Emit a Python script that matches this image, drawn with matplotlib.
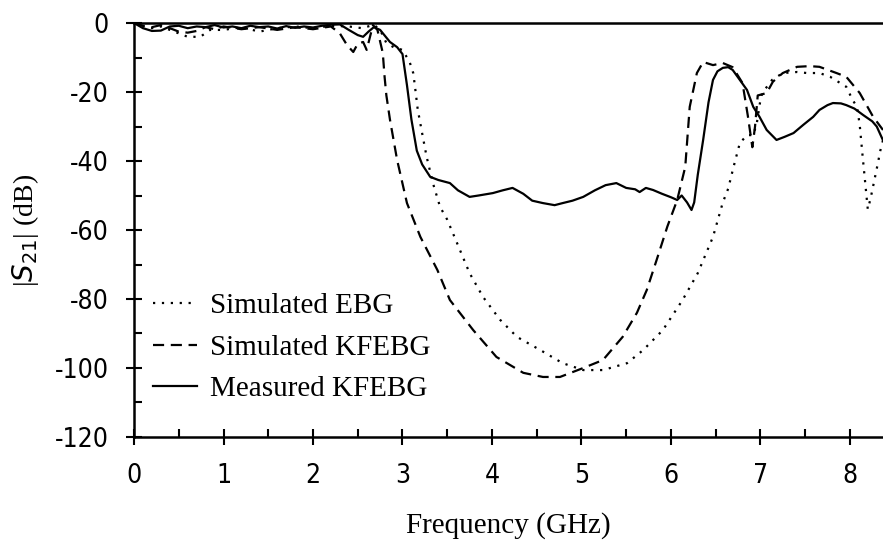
import matplotlib
matplotlib.use("Agg")
import matplotlib.pyplot as plt
from matplotlib.ticker import MultipleLocator

plt.rcParams["axes.unicode_minus"] = False

# Measured KFEBG (solid)
meas_f = [0, 0.1, 0.2, 0.3, 0.4, 0.5, 0.6, 0.7, 0.8, 0.9, 1.0, 1.1, 1.2, 1.3, 1.4,
          1.5, 1.6, 1.7, 1.8, 1.9, 2.0, 2.1, 2.2, 2.3, 2.4, 2.5, 2.56, 2.62, 2.68,
          2.75, 2.86, 2.94, 3.0, 3.05, 3.1, 3.16, 3.22, 3.31, 3.4, 3.53, 3.62, 3.75,
          3.85, 4.01, 4.12, 4.23, 4.35, 4.45, 4.57, 4.7, 4.79, 4.9, 5.02, 5.15, 5.27,
          5.39, 5.5, 5.6, 5.65, 5.72, 5.8, 5.9, 6.0, 6.07, 6.12, 6.18, 6.23, 6.26,
          6.3, 6.36, 6.42, 6.47, 6.52, 6.58, 6.64, 6.69, 6.77, 6.85, 6.92, 6.99,
          7.07, 7.18, 7.27, 7.37, 7.48, 7.59, 7.66, 7.75, 7.81, 7.9, 7.96, 8.05,
          8.15, 8.25, 8.3, 8.37]
meas_db = [0, -1.5, -2.3, -2.2, -1.0, -0.8, -1.5, -1.0, -1.2, -0.6, -1.3, -1.0, -1.5,
           -0.8, -1.2, -1.0, -1.6, -0.9, -1.4, -1.0, -1.3, -0.8, -0.5, -0.4, -2.0,
           -3.5, -4.0, -2.5, -1.2, -2.0, -5.5, -7.0, -9.0, -18, -28, -37, -41, -44.6,
           -45.5, -46.4, -48.5, -50.4, -50.0, -49.3, -48.5, -47.8, -49.5, -51.5,
           -52.2, -52.8, -52.2, -51.5, -50.4, -48.5, -47.0, -46.4, -47.8, -48.2,
           -49, -47.8, -48.4, -49.5, -50.5, -51.3, -50.0, -52.0, -54.2, -52, -44,
           -33.9, -23, -16.5, -14, -13, -12.8, -13.6, -16.5, -19.4, -24.3, -27.2,
           -31, -33.9, -33, -31.9, -29.5, -27.2, -25.2, -23.8, -23.2, -23.3, -23.8,
           -24.8, -26.7, -28.5, -30, -34]

# Simulated KFEBG (dashed)
kf_f = [0, 0.1, 0.2, 0.3, 0.4, 0.5, 0.6, 0.7, 0.8, 0.9, 1.0, 1.2, 1.4, 1.6, 1.8, 2.0,
        2.2, 2.3, 2.38, 2.45, 2.5, 2.56, 2.6, 2.67, 2.72, 2.78, 2.8, 2.82, 2.86,
        2.94, 3.05, 3.2, 3.39, 3.53, 3.79, 4.05, 4.35, 4.57, 4.76, 5.02, 5.24, 5.46,
        5.62, 5.73, 5.84, 5.96, 6.07, 6.16, 6.21, 6.29, 6.36, 6.47, 6.58, 6.69, 6.8,
        6.86, 6.91, 6.94, 6.97, 7.07, 7.14, 7.25, 7.41, 7.55, 7.66, 7.85, 7.96, 8.11,
        8.26, 8.37]
kf_db = [0, -0.8, -1.2, -0.6, -1.5, -2.5, -2.8, -2.3, -1.2, -1.8, -1.0, -1.8, -1.2,
         -2.0, -1.2, -1.8, -1.0, -3.0, -6.4, -8.4, -6, -5.5, -7.8, -0.6, -2.0, -8.7,
         -15.6, -21, -28, -39.7, -52.2, -62, -71.6, -80.3, -89, -96.8, -101.4,
         -102.6, -102.6, -100, -97.7, -91, -84, -77.4, -68.7, -59, -51.3, -41.7,
         -24.3, -14.5, -11.3, -12.2, -11.6, -12.8, -17.4, -27, -36, -30, -21, -20.3,
         -17, -14.5, -12.7, -12.5, -12.7, -14.5, -15.6, -20.3, -27.2, -31]

# Simulated EBG (dotted)
ebg_f = [0, 0.1, 0.2, 0.3, 0.4, 0.5, 0.6, 0.74, 0.85, 1.0, 1.2, 1.4, 1.6, 1.8, 2.0,
         2.2, 2.4, 2.55, 2.68, 2.75, 2.82, 2.9, 3.0, 3.08, 3.12, 3.14, 3.17, 3.22,
         3.27, 3.34, 3.42, 3.5, 3.61, 3.75, 3.9, 4.09, 4.28, 4.54, 4.79, 5.02, 5.24,
         5.51, 5.69, 5.91, 6.13, 6.3, 6.47, 6.58, 6.64, 6.7, 6.77, 6.85, 6.92, 6.96,
         7.0, 7.02, 7.13, 7.25, 7.41, 7.52, 7.66, 7.78, 7.96, 8.03, 8.08, 8.11, 8.14,
         8.17, 8.2, 8.23, 8.27, 8.31, 8.34, 8.37]
ebg_db = [0, -1.0, -1.5, -1.0, -2.0, -3.0, -4.0, -4.0, -2.0, -2.0, -1.2, -2.5, -1.5,
          -1.0, -1.5, -0.8, -1.0, -1.5, -0.5, -2, -5.8, -7.0, -7.8, -11.3, -14.5,
          -18.5, -25, -32, -38.8, -46.4, -53.3, -57, -63.8, -72.5, -79.4, -86, -91,
          -94.8, -98.6, -100.6, -100.6, -98.6, -94.8, -89, -80.3, -72.5, -62, -52,
          -48, -41.7, -34.8, -32.5, -32.5, -29, -22.3, -20.3, -16.5, -14.5, -14.2,
          -14.5, -14.5, -15.6, -18.5, -22.3, -24.3, -29.6, -38, -46, -54, -51, -46,
          -41, -37, -34]

labels = ["Simulated EBG", "Simulated KFEBG", "Measured KFEBG"]

serif = ["Liberation Serif", "DejaVu Serif"]

fig = plt.figure(figsize=(8.83, 5.44), dpi=100)
ax = fig.add_axes([0.1518, 0.1967, 0.8482, 0.761])

ax.plot(ebg_f, ebg_db, color="black", lw=1.6, linestyle=(0, (1, 3)), label=labels[0])
ax.plot(kf_f, kf_db, color="black", lw=1.6, linestyle=(0, (5, 3)), label=labels[1])
ax.plot(meas_f, meas_db, color="black", lw=1.6, linestyle="-", label=labels[2])

ax.set_xlim(0, 8.37)
ax.set_ylim(-120, 0)
ax.xaxis.set_major_locator(MultipleLocator(1))
ax.xaxis.set_minor_locator(MultipleLocator(0.5))
ax.yaxis.set_major_locator(MultipleLocator(20))
ax.yaxis.set_minor_locator(MultipleLocator(10))

for s in ["left", "bottom", "top"]:
    ax.spines[s].set_linewidth(1.8)
ax.spines["right"].set_visible(False)

ax.tick_params(which="major", direction="inout", length=12, width=1.5)
ax.tick_params(which="minor", direction="in", length=6, width=1.5)
ax.tick_params(axis="x", which="major", pad=13)
ax.tick_params(axis="y", which="major", pad=12)

for t in ax.get_xticklabels() + ax.get_yticklabels():
    t.set_family("DejaVu Sans")
    t.set_stretch("condensed")
    t.set_fontsize(19)

ax.set_xlabel("Frequency (GHz)", family=serif, fontsize=21, labelpad=16)
ax.set_ylabel(r"|$S$$_{21}$| (dB)", family=serif, fontsize=20, labelpad=10)

leg = ax.legend(loc="lower left", bbox_to_anchor=(-0.01, 0.02), frameon=False,
                prop={"family": serif, "size": 21}, handlelength=1.5,
                handletextpad=0.45, labelspacing=0.52)

fig.savefig("out.png", dpi=100)
